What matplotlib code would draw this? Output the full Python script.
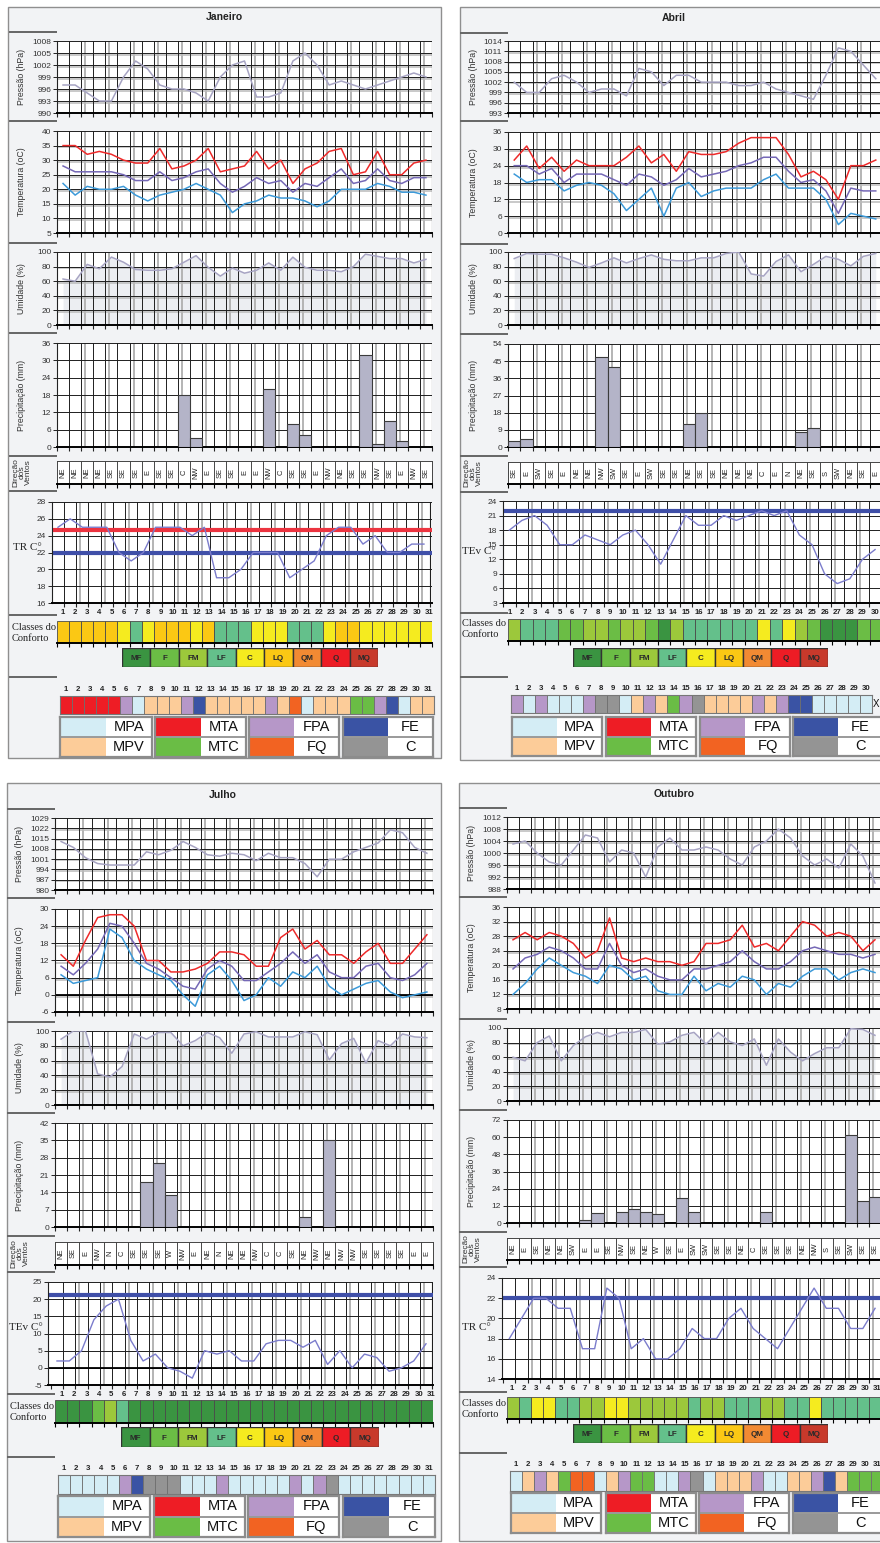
import matplotlib
matplotlib.use('Agg')
import matplotlib.pyplot as plt
from matplotlib.patches import Rectangle
import numpy as np

plt.rcParams['font.family'] = ['Liberation Sans', 'DejaVu Sans']

# ---------------------------------------------------------------- data
month_titles = ['Janeiro', 'Abril', 'Julho', 'Outubro']

jan_pressure = [997, 997, 995, 993, 993, 999, 1003, 1001, 997, 996, 996, 995, 993, 999, 1002, 1003,
                994, 994, 995, 1003, 1005, 1002, 997, 998, 997, 996, 997, 998, 999, 1000, 999]
jan_tmax = [35, 35, 32, 33, 32, 30, 29, 29, 34, 27, 28, 30, 34, 26, 27, 28, 33, 27, 30, 22, 27, 29,
            33, 34, 25, 26, 33, 25, 25, 29, 30]
jan_tmed = [28, 26, 26, 26, 26, 25, 23, 23, 26, 23, 24, 26, 27, 22, 19, 21, 24, 22, 23, 19, 22, 21,
            24, 27, 22, 23, 27, 23, 22, 24, 24]
jan_tmin = [22, 18, 21, 20, 20, 21, 18, 16, 18, 19, 20, 22, 20, 18, 12, 15, 16, 18, 17, 17, 16, 14,
            16, 20, 20, 20, 22, 21, 19, 19, 18]
jan_hum = [63, 60, 83, 77, 93, 86, 76, 75, 75, 77, 86, 95, 79, 67, 78, 71, 75, 85, 75, 93, 79, 75,
           75, 73, 80, 97, 94, 91, 91, 85, 90]
jan_prec = [0, 0, 0, 0, 0, 0, 0, 0, 0, 0, 18, 3, 0, 0, 0, 0, 0, 20, 0, 8, 4, 0, 0, 0, 0, 32, 1, 9,
            2, 0, 0]
jan_wind = ['NE', 'NE', 'NE', 'NE', 'SE', 'SE', 'SE', 'E', 'SE', 'SE', 'C', 'NW', 'E', 'SE', 'SE',
            'E', 'E', 'NW', 'C', 'SE', 'SE', 'E', 'NW', 'NE', 'SE', 'SE', 'NW', 'SE', 'E', 'NW', 'SE']
jan_index = [25, 26, 25, 25, 25, 22, 21, 22, 25, 25, 25, 24, 25, 19, 19, 20, 22, 22, 22, 19, 20, 21,
             24, 25, 25, 23, 24, 22, 22, 23, 23]
jan_index_limits = [24.7, 22]
jan_comfort = ['LQ', 'LQ', 'LQ', 'LQ', 'LQ', 'C', 'LF', 'C', 'LQ', 'LQ', 'LQ', 'C', 'LQ', 'LF', 'LF',
               'LF', 'C', 'C', 'C', 'LF', 'LF', 'LF', 'C', 'LQ', 'LQ', 'C', 'C', 'C', 'C', 'C', 'C']
jan_mass = ['MTA', 'MTA', 'MTA', 'MTA', 'MTA', 'FPA', 'MPA', 'MPV', 'MPV', 'MPV', 'FPA', 'FE', 'MPV',
            'MPV', 'MPV', 'MPV', 'MPV', 'FPA', 'MPV', 'FQ', 'MPA', 'MPV', 'MPV', 'MPV', 'MTC', 'MTC',
            'FPA', 'FE', 'MPA', 'MPV', 'MPV']

abr_pressure = [1002, 999, 999, 1003, 1004, 1002, 999, 1000, 1000, 998, 1006, 1005, 1001, 1004, 1004,
                1002, 1002, 1002, 1001, 1001, 1002, 1000, 999, 998, 997, 1004, 1012, 1011, 1007, 1003]
abr_tmax = [26, 31, 23, 27, 22, 26, 24, 24, 24, 27, 31, 25, 28, 22, 29, 28, 28, 29, 32, 34, 34, 34,
            28, 20, 22, 19, 12, 24, 24, 26]
abr_tmed = [24, 24, 21, 23, 18, 21, 21, 21, 19, 17, 21, 20, 17, 19, 23, 20, 21, 22, 24, 25, 27, 27,
            22, 18, 19, 15, 7, 16, 15, 15]
abr_tmin = [21, 18, 19, 19, 15, 17, 18, 17, 14, 8, 12, 16, 6, 16, 18, 13, 15, 16, 16, 16, 19, 21, 16,
            16, 16, 12, 3, 7, 6, 5]
abr_hum = [91, 98, 97, 97, 92, 86, 79, 85, 92, 85, 91, 96, 90, 88, 88, 92, 92, 98, 100, 70, 67, 87,
           96, 73, 83, 94, 90, 81, 94, 98]
abr_prec = [3.3, 4.2, 0, 0, 0, 0, 0, 47, 42, 0, 0, 0, 0, 0, 12, 18, 0, 0, 0, 0, 0, 0, 0, 8, 10, 0, 0,
            0, 0, 0]
abr_wind = ['SE', 'E', 'SW', 'SE', 'E', 'NE', 'NE', 'NW', 'SW', 'SE', 'E', 'SW', 'SE', 'SE', 'NE',
            'SE', 'SE', 'NE', 'NE', 'NE', 'C', 'E', 'N', 'NE', 'SE', 'S', 'SW', 'NE', 'SE', 'E']
abr_index = [18, 20, 21, 19, 15, 15, 17, 16, 15, 17, 18, 15, 11, 16, 21, 19, 19, 21, 20, 21, 22, 21,
             22, 17, 15, 9, 7, 8, 12, 14]
abr_index_limits = [22]
abr_comfort = ['FM', 'LF', 'LF', 'LF', 'F', 'F', 'FM', 'FM', 'F', 'FM', 'FM', 'F', 'MF', 'FM', 'LF',
               'LF', 'LF', 'LF', 'LF', 'LF', 'C', 'LF', 'C', 'FM', 'F', 'MF', 'MF', 'MF', 'F', 'F']
abr_mass = ['FPA', 'MPA', 'FPA', 'MPA', 'MPA', 'MPA', 'FPA', 'C', 'C', 'MPA', 'MPV', 'FPA', 'MPV',
            'MTC', 'FPA', 'C', 'MPV', 'MPV', 'MPV', 'MPV', 'FPA', 'MPV', 'FPA', 'FE', 'FE', 'MPA',
            'MPA', 'MPA', 'MPA', 'MPA']

jul_pressure = [1013, 1009, 1002, 998, 997, 997, 997, 1006, 1004, 1007, 1013, 1009, 1004, 1003, 1005,
                1004, 1000, 1005, 1002, 1002, 998, 989, 1001, 1001, 1006, 1009, 1012, 1021, 1019,
                1009, 1005]
jul_tmax = [14, 10, 19, 27, 28, 28, 24, 12, 12, 8, 8, 9, 11, 15, 15, 14, 10, 10, 20, 23, 16, 19, 14,
            14, 11, 15, 18, 11, 11, 16, 21]
jul_tmed = [10, 7, 11, 16, 25, 24, 18, 11, 9, 6, 3, 2, 9, 12, 10, 5, 5, 8, 11, 15, 11, 14, 8, 6, 6,
            10, 11, 6, 5, 7, 11]
jul_tmin = [7, 4, 5, 6, 23, 20, 12, 9, 7, 5, 0, -4, 7, 10, 5, -2, 0, 6, 3, 8, 6, 10, 3, 0, 2, 4, 5, 1,
            -1, 0, 1]
jul_hum = [89, 100, 100, 42, 38, 52, 96, 89, 98, 98, 80, 87, 98, 91, 70, 96, 99, 92, 92, 92, 99, 95,
           61, 83, 90, 57, 87, 80, 96, 92, 91]
jul_prec = [0, 0, 0, 0, 0, 0, 0, 18, 26, 13, 0, 0, 0, 0, 0, 0, 0, 0, 0, 0, 4, 0, 35, 0, 0, 0, 0, 0, 0,
            0, 0]
jul_wind = ['NE', 'SE', 'E', 'NW', 'N', 'C', 'SE', 'SE', 'SE', 'W', 'NW', 'E', 'NE', 'N', 'NE', 'NE',
            'NW', 'C', 'C', 'SE', 'NE', 'NW', 'NE', 'NW', 'NW', 'SE', 'SE', 'SE', 'SE', 'E', 'E']
jul_index = [2, 2, 5, 14, 18, 20, 8, 2, 4, 0, -1, -3, 5, 4, 5, 2, 2, 7, 8, 8, 6, 8, 1, 5, 0, 4, 3, -1,
             0, 2, 7]
jul_index_limits = [21.2]
jul_comfort = ['MF', 'MF', 'MF', 'F', 'FM', 'LF', 'MF', 'MF', 'MF', 'MF', 'MF', 'MF', 'MF', 'MF',
               'MF', 'MF', 'MF', 'MF', 'MF', 'MF', 'MF', 'MF', 'MF', 'MF', 'MF', 'MF', 'MF', 'MF',
               'MF', 'MF', 'MF']
jul_mass = ['MPA', 'MPA', 'MPA', 'MPA', 'MPA', 'FPA', 'FE', 'C', 'C', 'C', 'MPA', 'MPA', 'MPA', 'FPA',
            'MPA', 'MPA', 'MPA', 'MPA', 'MPA', 'FPA', 'MPA', 'FPA', 'C', 'MPA', 'MPA', 'MPA', 'MPA',
            'MPA', 'MPA', 'MPA', 'MPA']

out_pressure = [1003, 1004, 1000, 997, 996, 1001, 1006, 1005, 997, 1001, 1000, 992, 1002, 1005, 1001,
                1001, 1002, 1001, 998, 996, 1002, 1004, 1008, 1005, 999, 996, 998, 995, 1003, 999, 990]
out_tmax = [27, 29, 27, 29, 28, 26, 22, 24, 33, 22, 21, 22, 21, 21, 20, 21, 26, 26, 27, 31, 25, 26,
            24, 28, 32, 31, 28, 29, 28, 24, 27]
out_tmed = [19, 22, 23, 25, 24, 22, 19, 19, 26, 20, 18, 19, 17, 16, 16, 19, 19, 20, 21, 24, 21, 19,
            19, 21, 24, 25, 24, 23, 23, 22, 23]
out_tmin = [12, 15, 19, 22, 20, 18, 17, 15, 20, 19, 16, 17, 13, 12, 12, 17, 13, 15, 14, 17, 16, 12,
            15, 14, 17, 19, 19, 16, 18, 19, 18]
out_hum = [60, 55, 80, 89, 55, 76, 88, 94, 88, 94, 94, 98, 78, 81, 90, 94, 78, 94, 81, 76, 85, 49,
           85, 67, 55, 65, 73, 73, 99, 98, 90]
out_prec = [0, 0, 0, 0, 0, 0, 2.3, 7, 0, 8, 10, 8, 6.5, 0, 17.5, 8, 0, 0, 0, 0, 0, 8, 0, 0, 0, 0, 0,
            0, 61.5, 15.5, 18.5]
out_wind = ['NE', 'E', 'SE', 'NE', 'NE', 'SW', 'E', 'E', 'SE', 'NW', 'SE', 'NE', 'W', 'SE', 'E', 'SW',
            'SW', 'SE', 'SE', 'NE', 'C', 'SE', 'SE', 'SE', 'NE', 'NW', 'S', 'SE', 'SW', 'SE', 'SE']
out_index = [18, 20, 22, 22, 21, 21, 17, 17, 23, 22, 17, 18, 16, 16, 17, 19, 18, 18, 20, 21, 19, 18,
             17, 19, 21, 23, 21, 21, 19, 19, 21]
out_index_limits = [22]
out_comfort = ['FM', 'LF', 'C', 'C', 'LF', 'LF', 'FM', 'FM', 'C', 'C', 'FM', 'FM', 'FM', 'FM', 'FM',
               'LF', 'FM', 'FM', 'LF', 'LF', 'LF', 'FM', 'FM', 'LF', 'LF', 'C', 'LF', 'LF', 'LF',
               'LF', 'LF']
out_mass = ['MPA', 'MPV', 'FPA', 'MPV', 'MTC', 'FQ', 'FQ', 'MPA', 'MPV', 'FPA', 'MTC', 'MTC', 'MPA',
            'MPA', 'FPA', 'C', 'MPA', 'MPV', 'MPV', 'MPV', 'FPA', 'MPA', 'MPA', 'MPV', 'MPV', 'FPA',
            'FE', 'MPV', 'MTC', 'MTC', 'MTC']

# axis tick values
jan_ticks = dict(pres=[990, 993, 996, 999, 1002, 1005, 1008], temp=[5, 10, 15, 20, 25, 30, 35, 40],
                 prec=[0, 6, 12, 18, 24, 30, 36], idx=[16, 18, 20, 22, 24, 26, 28])
abr_ticks = dict(pres=[993, 996, 999, 1002, 1005, 1008, 1011, 1014], temp=[0, 6, 12, 18, 24, 30, 36],
                 prec=[0, 9, 18, 27, 36, 45, 54], idx=[3, 6, 9, 12, 15, 18, 21, 24])
jul_ticks = dict(pres=[980, 987, 994, 1001, 1008, 1015, 1022, 1029], temp=[-6, 0, 6, 12, 18, 24, 30],
                 prec=[0, 7, 14, 21, 28, 35, 42], idx=[-5, 0, 5, 10, 15, 20, 25])
out_ticks = dict(pres=[988, 992, 996, 1000, 1004, 1008, 1012], temp=[8, 12, 16, 20, 24, 28, 32, 36],
                 prec=[0, 12, 24, 36, 48, 60, 72], idx=[14, 16, 18, 20, 22, 24])
hum_ticks = [0, 20, 40, 60, 80, 100]
index_names = ['TR C°', 'TEv C°', 'TEv C°', 'TR C°']

class_order = ['MF', 'F', 'FM', 'LF', 'C', 'LQ', 'QM', 'Q', 'MQ']
mass_legend = [('MPA', 'MPV'), ('MTA', 'MTC'), ('FPA', 'FQ'), ('FE', 'C')]

# ---------------------------------------------------------------- styles
CLASS_COLORS = {'MF': '#3a9441', 'F': '#6bbd45', 'FM': '#9cc83b', 'LF': '#64c08b', 'C': '#f5eb1f',
                'LQ': '#fbc814', 'QM': '#f28a33', 'Q': '#ed1c25', 'MQ': '#c8392b'}
MASS_COLORS = {'MPA': '#d4edf5', 'MPV': '#fccc99', 'MTA': '#ee1d25', 'MTC': '#6abd45',
               'FPA': '#b697c8', 'FQ': '#f26322', 'FE': '#3a53a4', 'C': '#949494'}
PRES_C = '#a7a4c3'
RED = '#ee2a2a'
PURPLE = '#7568b6'
BLUE = '#3c9ad9'
IDX_C = '#7b7ccc'
PANEL_BG = '#f2f3f5'

LAYOUTS = [
    dict(box=(8, 7, 441, 758), title=(224, 17), pres=(57, 41, 432, 113), temp=(57, 131, 432, 233),
         hum=(57, 252, 432, 325), prec=(57, 343, 432, 447), wind=(57, 461, 432, 484),
         idx=(52, 502, 432, 603), idx_xlim=(0.51, 31.66), lab_off=0.4,
         cls=(57, 621, 432, 643), clsleg=(122, 648, 378, 667), cells=(60, 696, 434, 714),
         leg_y=(717, 757), leg_x=[(60, 152), (155, 246), (249, 339), (343, 433)],
         seps=[32, 121, 243, 333, 456, 491, 615, 677], sep_x=(9, 57), ylab_x=22,
         idx_lab=(13, 548), cls_lab=(12, 633)),
    dict(box=(460, 7, 884, 760), title=(674, 18), pres=(508, 41, 882, 113), temp=(508, 132, 882, 233),
         hum=(508, 252, 882, 325), prec=(508, 344, 882, 447), wind=(508, 462, 882, 484),
         idx=(503, 501, 882, 603), idx_xlim=(0.5, 30.55), lab_off=0.0,
         cls=(508, 619, 882, 641), clsleg=(573, 648, 828, 667), cells=(511, 695, 872, 713),
         leg_y=(717, 756), leg_x=[(512, 602), (606, 696), (700, 790), (793, 883)],
         seps=[33, 121, 244, 334, 456, 492, 613, 677], sep_x=(460, 508), ylab_x=473,
         idx_lab=(462, 552), cls_lab=(462, 629)),
    dict(box=(7, 783, 441, 1541), title=(223, 795), pres=(55, 818, 433, 890), temp=(55, 909, 433, 1012),
         hum=(55, 1031, 433, 1105), prec=(55, 1123, 433, 1227), wind=(55, 1242, 433, 1265),
         idx=(48, 1282, 433, 1385), idx_xlim=(0.27, 31.57), lab_off=0.4,
         cls=(55, 1400, 433, 1423), clsleg=(121, 1427, 379, 1447), cells=(58, 1475, 435, 1494),
         leg_y=(1496, 1537), leg_x=[(58, 150), (154, 245), (248, 339), (343, 435)],
         seps=[809, 898, 1022, 1113, 1236, 1272, 1394, 1457], sep_x=(7, 55), ylab_x=20,
         idx_lab=(9, 1327), cls_lab=(10, 1412)),
    dict(box=(459, 783, 884, 1541), title=(674, 794), pres=(507, 817, 881, 889), temp=(507, 907, 881, 1009),
         hum=(507, 1028, 881, 1101), prec=(507, 1120, 881, 1223), wind=(507, 1238, 881, 1260),
         idx=(502, 1278, 882, 1379), idx_xlim=(0.40, 31.57), lab_off=0.2,
         cls=(507, 1397, 881, 1419), clsleg=(573, 1424, 828, 1443), cells=(510, 1471, 883, 1491),
         leg_y=(1493, 1533), leg_x=[(511, 601), (606, 696), (699, 789), (793, 883)],
         seps=[808, 897, 1019, 1110, 1232, 1267, 1392, 1453], sep_x=(459, 507), ylab_x=472,
         idx_lab=(462, 1328), cls_lab=(462, 1409)),
]

# ---------------------------------------------------------------- figure
W, H = 880, 1543
fig = plt.figure(figsize=(W / 100, H / 100), dpi=100)
fig.patch.set_facecolor('white')

bg = fig.add_axes([0, 0, 1, 1])
bg.set_xlim(0, W)
bg.set_ylim(H, 0)
bg.axis('off')
bg.set_zorder(0)


def add_ax(box):
    x0, y0, x1, y1 = box
    ax = fig.add_axes([x0 / W, 1 - y1 / H, (x1 - x0) / W, (y1 - y0) / H])
    ax.set_zorder(1)
    return ax


def grid_lines(ax, n, yticks, hgray):
    bounds = np.arange(1.5, n + 0.5, 1.0)
    for i, b in enumerate(bounds):
        if i % 2 == 1:
            ax.axvline(b + 0.33, color='#b4b4b4', lw=1.4, zorder=0.5)
    for b in bounds:
        ax.axvline(b, color='#1e1e1e', lw=0.7, zorder=0.6)
    ax.axvline(n + 0.5, color='#1e1e1e', lw=0.8, zorder=0.6)
    step = yticks[1] - yticks[0]
    for t in yticks[1:]:
        ax.axhline(t, color='#1e1e1e', lw=0.7, zorder=0.6)
        if hgray and t != yticks[-1]:
            ax.axhline(t - 0.13 * step, color='#bababa', lw=1.1, zorder=0.5)
    if yticks[0] < 0 < yticks[-1]:
        ax.axhline(0, color='#000000', lw=1.3, zorder=0.7)


def setup_chart(ax, n, yticks, xlim=None, hgray=False):
    ax.set_facecolor('white')
    ax.set_xlim(*(xlim if xlim else (0.5, n + 0.5)))
    ax.set_ylim(yticks[0], yticks[-1])
    for s in ('top', 'right'):
        ax.spines[s].set_visible(False)
    ax.spines['left'].set_color('#222222')
    ax.spines['left'].set_linewidth(0.8)
    ax.spines['bottom'].set_color('#000000')
    ax.spines['bottom'].set_linewidth(1.4)
    ax.set_yticks(yticks)
    ax.set_yticklabels([f'{t:g}' for t in yticks])
    ax.tick_params(axis='y', labelsize=6, length=3, width=0.7, pad=1.2, color='#222222',
                   labelcolor='#333333')
    bounds = np.arange(0.5, n + 1.0, 1.0)
    bounds = bounds[(bounds >= ax.get_xlim()[0]) & (bounds <= ax.get_xlim()[1])]
    ax.set_xticks(bounds)
    ax.set_xticklabels([])
    ax.tick_params(axis='x', length=3, width=0.8, color='#222222')
    grid_lines(ax, n, yticks, hgray)


def ylab(L, key, text, fs=6.3):
    x0, y0, x1, y1 = L[key]
    bg.text(L['ylab_x'], (y0 + y1) / 2, text, rotation=90, ha='center', va='center',
            fontsize=fs, color='#333333', linespacing=0.85)


def draw_panel(L, title, pressure, tmax, tmed, tmin, hum, prec, wind, index, limits, comfort, mass,
               ticks, index_name):
    n = len(pressure)
    days = np.arange(1, n + 1)
    x0, y0, x1, y1 = L['box']
    bg.add_patch(Rectangle((x0, y0), x1 - x0, y1 - y0, facecolor=PANEL_BG, edgecolor='#8f8f8f',
                           lw=1.0, zorder=0))
    bg.text(L['title'][0], L['title'][1], title, ha='center', va='center', fontsize=7.5,
            fontweight='bold', color='#222222')
    for y in L['seps']:
        bg.plot([L['sep_x'][0], L['sep_x'][1]], [y, y], color='#666666', lw=1.4,
                solid_capstyle='butt')

    # pressure
    ax = add_ax(L['pres'])
    setup_chart(ax, n, ticks['pres'], hgray=True)
    ax.plot(days, pressure, color=PRES_C, lw=1.1, zorder=3)
    ylab(L, 'pres', 'Pressão (hPa)')

    # temperature
    ax = add_ax(L['temp'])
    setup_chart(ax, n, ticks['temp'], hgray=True)
    ax.plot(days, tmax, color=RED, lw=1.1, zorder=3)
    ax.plot(days, tmed, color=PURPLE, lw=1.1, zorder=3)
    ax.plot(days, tmin, color=BLUE, lw=1.1, zorder=3)
    ylab(L, 'temp', 'Temperatura (oC)')

    # humidity
    ax = add_ax(L['hum'])
    setup_chart(ax, n, hum_ticks, hgray=True)
    ax.fill_between(days, hum, 0, color='#eceef2', zorder=0.4, lw=0)
    ax.plot(days, hum, color=PRES_C, lw=1.1, zorder=3)
    ylab(L, 'hum', 'Umidade (%)')

    # precipitation
    ax = add_ax(L['prec'])
    setup_chart(ax, n, ticks['prec'])
    ax.bar(days, prec, width=1.0, color='#b4b4c8', edgecolor='#3c3c3c', linewidth=0.8, zorder=3)
    ylab(L, 'prec', 'Precipitação (mm)')

    # wind direction
    ax = add_ax(L['wind'])
    ax.set_facecolor('white')
    ax.set_xlim(0.5, n + 0.5)
    ax.set_ylim(0, 1)
    for s in ('top', 'left', 'right'):
        ax.spines[s].set_color('#444444')
        ax.spines[s].set_linewidth(0.7)
    ax.spines['bottom'].set_linewidth(1.4)
    ax.set_yticks([])
    ax.set_xticks(np.arange(0.5, n + 1.0, 1.0))
    ax.set_xticklabels([])
    ax.tick_params(axis='x', length=3, width=0.8)
    for b in np.arange(1.5, n + 0.5, 1.0):
        ax.axvline(b, color='#2a2a2a', lw=0.6)
    for d, w in zip(days, wind):
        ax.text(d, 0.5, w, rotation=90, ha='center', va='center', fontsize=5.4, color='#222222')
    ylab(L, 'wind', 'Direção\ndos\nVentos', fs=6)

    # comfort index
    ax = add_ax(L['idx'])
    setup_chart(ax, n, ticks['idx'], xlim=L['idx_xlim'])
    lim_colors = ['#ec3440', '#3f4fa8'] if len(limits) == 2 else ['#3f4fa8']
    for v, c in zip(limits, lim_colors):
        ax.axhline(v, color=c, lw=3.0, zorder=2)
    ax.plot(days, index, color=IDX_C, lw=1.0, zorder=3)
    ax.set_xticks(days + L['lab_off'], minor=True)
    ax.set_xticklabels([str(d) for d in days], minor=True)
    ax.tick_params(axis='x', which='minor', length=0, pad=4, labelsize=5.6, labelcolor='#222222')
    for lab in ax.get_xticklabels(minor=True):
        lab.set_fontweight('bold')
    bg.text(L['idx_lab'][0], L['idx_lab'][1], index_name, ha='left', va='center', fontsize=8,
            family=['Liberation Serif', 'DejaVu Serif'], color='#222222')

    # comfort classes per day
    ax = add_ax(L['cls'])
    ax.bar(days, np.ones(n), width=1.0, color=[CLASS_COLORS[c] for c in comfort],
           edgecolor='#4a4a4a', linewidth=0.6)
    ax.set_xlim(0.5, n + 0.5)
    ax.set_ylim(0, 1)
    for s in ('top', 'left', 'right'):
        ax.spines[s].set_visible(False)
    ax.spines['bottom'].set_linewidth(1.4)
    ax.set_yticks([])
    ax.set_xticks(np.arange(0.5, n + 1.0, 1.0))
    ax.set_xticklabels([])
    ax.tick_params(axis='x', length=3, width=0.8)
    bg.text(L['cls_lab'][0], L['cls_lab'][1], 'Classes do\nConforto', ha='left', va='center',
            fontsize=7.5, family=['Liberation Serif', 'DejaVu Serif'], color='#222222',
            linespacing=1.3)

    # comfort class legend
    ax = add_ax(L['clsleg'])
    xs = np.arange(len(class_order))
    ax.bar(xs, np.ones(len(xs)), width=1.0, color=[CLASS_COLORS[c] for c in class_order],
           edgecolor='#333333', linewidth=1.0)
    for xv, c in zip(xs, class_order):
        ax.text(xv, 0.45, c, ha='center', va='center', fontsize=5.8, fontweight='bold',
                color='#2a2a2a')
    ax.set_xlim(-0.5, len(xs) - 0.5)
    ax.set_ylim(0, 1)
    ax.axis('off')

    # air-mass cells
    ax = add_ax(L['cells'])
    ax.bar(days, np.ones(n), width=1.0, color=[MASS_COLORS[m] for m in mass],
           edgecolor='#6e6e6e', linewidth=0.6)
    ax.set_xlim(0.5, n + 0.5)
    ax.set_ylim(0, 1)
    for s in ax.spines.values():
        s.set_color('#777777')
        s.set_linewidth(0.8)
    ax.set_yticks([])
    ax.xaxis.tick_top()
    ax.set_xticks(days)
    ax.set_xticklabels([str(d) for d in days])
    ax.tick_params(axis='x', length=0, pad=2.5, labelsize=5.6, labelcolor='#222222')
    for lab in ax.get_xticklabels():
        lab.set_fontweight('bold')

    # air-mass legend
    for (gx0, gx1), (top, bot) in zip(L['leg_x'], mass_legend):
        ax = add_ax((gx0, L['leg_y'][0], gx1, L['leg_y'][1]))
        ax.set_xlim(0, 2)
        ax.set_ylim(0, 2)
        ax.bar([0.5, 0.5], [1, 1], bottom=[1, 0], width=1.0,
               color=[MASS_COLORS[top], MASS_COLORS[bot]], linewidth=0)
        ax.bar([1.5, 1.5], [1, 1], bottom=[1, 0], width=1.0, color='white', linewidth=0)
        ax.axhline(1, color='#9a9a9a', lw=1.4)
        ax.text(1.5, 1.5, top, ha='center', va='center', fontsize=10.5,
                family=['Liberation Sans Narrow', 'Liberation Sans'], color='#111111')
        ax.text(1.5, 0.5, bot, ha='center', va='center', fontsize=10.5,
                family=['Liberation Sans Narrow', 'Liberation Sans'], color='#111111')
        ax.set_xticks([])
        ax.set_yticks([])
        for s in ax.spines.values():
            s.set_color('#8c8c8c')
            s.set_linewidth(1.6)


draw_panel(LAYOUTS[0], month_titles[0], jan_pressure, jan_tmax, jan_tmed, jan_tmin, jan_hum, jan_prec,
           jan_wind, jan_index, jan_index_limits, jan_comfort, jan_mass, jan_ticks, index_names[0])
draw_panel(LAYOUTS[1], month_titles[1], abr_pressure, abr_tmax, abr_tmed, abr_tmin, abr_hum, abr_prec,
           abr_wind, abr_index, abr_index_limits, abr_comfort, abr_mass, abr_ticks, index_names[1])
draw_panel(LAYOUTS[2], month_titles[2], jul_pressure, jul_tmax, jul_tmed, jul_tmin, jul_hum, jul_prec,
           jul_wind, jul_index, jul_index_limits, jul_comfort, jul_mass, jul_ticks, index_names[2])
draw_panel(LAYOUTS[3], month_titles[3], out_pressure, out_tmax, out_tmed, out_tmin, out_hum, out_prec,
           out_wind, out_index, out_index_limits, out_comfort, out_mass, out_ticks, index_names[3])

bg.text(873, 704, 'X', ha='left', va='center', fontsize=7, color='#111111')

fig.savefig('out.png', dpi=100)
